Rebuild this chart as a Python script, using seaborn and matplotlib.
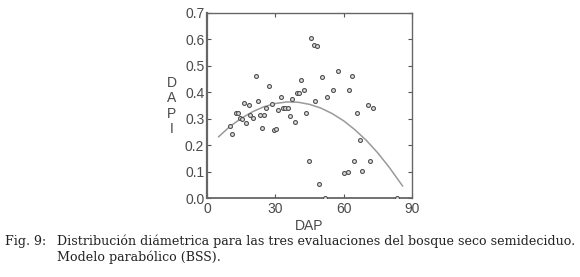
import numpy as np
import pandas as pd
import matplotlib
matplotlib.use("Agg")
import matplotlib.pyplot as plt
import seaborn as sns

sns.set_style("ticks")
plt.rcParams['font.family'] = ['Liberation Sans', 'DejaVu Sans']

# scatter points (DAP, DAPI)
dap = [10.1, 11.1, 12.6, 13.5, 14.5, 15.2, 16.3, 17.2, 18.4, 18.9,
       20.4, 21.3, 22.2, 23.4, 24.3, 25.2, 26.0, 27.1, 28.7, 29.6,
       30.5, 31.1, 32.3, 33.5, 34.3, 35.5, 36.4, 37.4, 38.5, 39.4,
       40.6, 41.4, 42.6, 43.7, 44.7, 45.6, 46.8, 47.5, 48.5, 49.4,
       50.5, 51.8, 52.7, 55.5, 57.7, 60.1, 61.9, 62.6, 63.9, 64.8,
       65.7, 67.1, 68.1, 70.8, 71.8, 73.0, 83.3]
dapi = [0.274, 0.241, 0.322, 0.320, 0.301, 0.297, 0.360, 0.285, 0.351, 0.314,
        0.301, 0.460, 0.366, 0.312, 0.266, 0.312, 0.341, 0.424, 0.356, 0.257,
        0.262, 0.332, 0.380, 0.341, 0.341, 0.342, 0.311, 0.374, 0.289, 0.395,
        0.396, 0.445, 0.408, 0.320, 0.140, 0.605, 0.577, 0.368, 0.575, 0.054,
        0.458, 0.000, 0.383, 0.407, 0.479, 0.095, 0.100, 0.410, 0.460, 0.140,
        0.322, 0.220, 0.102, 0.351, 0.140, 0.341, 0.000]

# parabolic model curve
curve_x = [5, 10, 15, 20, 25, 30, 35, 40, 45, 50, 55, 60, 65, 70, 75, 80, 86]
curve_y = [0.231, 0.270, 0.301, 0.326, 0.345, 0.357, 0.363, 0.362, 0.354,
           0.340, 0.319, 0.292, 0.258, 0.218, 0.171, 0.117, 0.045]

x_ticks = [0, 30, 60, 90]
y_ticks = [0.0, 0.1, 0.2, 0.3, 0.4, 0.5, 0.6, 0.7]

caption_lines = [
    ("Fig. 9:", "Distribución diámetrica para las tres evaluaciones del bosque seco semideciduo."),
    ("", "Modelo parabólico (BSS)."),
]

pts = pd.DataFrame({'DAP': dap, 'DAPI': dapi})
curve = pd.DataFrame({'DAP': curve_x, 'DAPI': curve_y})

fig = plt.figure(figsize=(5.8, 2.77), dpi=100)
ax = fig.add_axes([0.357, 0.285, 0.353, 0.669])

text_col = '#4a4a4a'
sns.lineplot(data=curve, x='DAP', y='DAPI', color='#9a9a9a', linewidth=1.1, ax=ax)
sns.scatterplot(data=pts, x='DAP', y='DAPI', marker='o', s=8,
                facecolor='#dddddd', edgecolor='#505050', linewidth=0.8, ax=ax, zorder=3)

ax.set_xlim(0, 90)
ax.set_ylim(0, 0.7)
ax.set_xticks(x_ticks)
ax.set_yticks(y_ticks)
ax.set_yticklabels([f"{v:.1f}" for v in y_ticks])
ax.tick_params(direction='in', length=3, width=0.8, colors='#555555',
               labelcolor=text_col, labelsize=10, top=True, right=True, pad=2)
ax.tick_params(axis='x', pad=3)
for side, sp in ax.spines.items():
    sp.set_visible(True)
    sp.set_color('#666666')
    sp.set_linewidth(1.0)
ax.spines['left'].set_linewidth(1.6)
ax.spines['bottom'].set_linewidth(1.3)

ax.set_xlabel('DAP', fontsize=10, color=text_col, labelpad=2)
ax.set_ylabel('')
fig.text(172 / 580, 1 - 106 / 277, 'D\nA\nP\nI', ha='center', va='center',
         fontsize=10, color=text_col, linespacing=1.15)

for i, (lead, body) in enumerate(caption_lines):
    y = 1 - (241 + i * 16) / 277
    if lead:
        fig.text(5 / 580, y, lead, ha='left', va='center', fontsize=9.1,
                 family='DejaVu Serif', color='#222222')
    fig.text(57 / 580, y, body, ha='left', va='center', fontsize=9.1,
             family='DejaVu Serif', color='#222222')

fig.savefig('out.png', dpi=100)
